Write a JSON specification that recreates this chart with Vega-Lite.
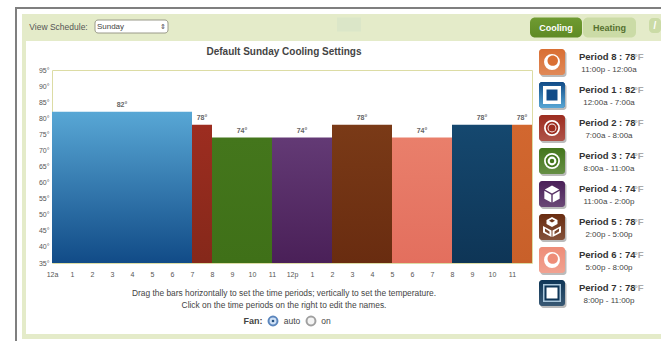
{
"$schema":"https://vega.github.io/schema/vega-lite/v6.json",
"background":"#ffffff",
"padding":{"left":15,"top":7,"right":0,"bottom":0},
"spacing":0,
"config":{"view":{"stroke":null},"concat":{"spacing":0},"text":{"font":"Liberation Sans"},"font":"Liberation Sans"},
"datasets":{
 "bars":[
  {"period":"Period 1","start":0,"end":7,"mid":3.5,"temp":82,"label":"82°"},
  {"period":"Period 2","start":7,"end":8,"mid":7.5,"temp":78,"label":"78°"},
  {"period":"Period 3","start":8,"end":11,"mid":9.5,"temp":74,"label":"74°"},
  {"period":"Period 4","start":11,"end":14,"mid":12.5,"temp":74,"label":"74°"},
  {"period":"Period 5","start":14,"end":17,"mid":15.5,"temp":78,"label":"78°"},
  {"period":"Period 6","start":17,"end":20,"mid":18.5,"temp":74,"label":"74°"},
  {"period":"Period 7","start":20,"end":23,"mid":21.5,"temp":78,"label":"78°"},
  {"period":"Period 8","start":23,"end":24,"mid":23.5,"temp":78,"label":"78°"}
 ],
 "periods":[
  {"period":"Period 8","heading":"Period 8 : 78","range":"11:00p - 12:00a"},
  {"period":"Period 1","heading":"Period 1 : 82","range":"12:00a - 7:00a"},
  {"period":"Period 2","heading":"Period 2 : 78","range":"7:00a - 8:00a"},
  {"period":"Period 3","heading":"Period 3 : 74","range":"8:00a - 11:00a"},
  {"period":"Period 4","heading":"Period 4 : 74","range":"11:00a - 2:00p"},
  {"period":"Period 5","heading":"Period 5 : 78","range":"2:00p - 5:00p"},
  {"period":"Period 6","heading":"Period 6 : 74","range":"5:00p - 8:00p"},
  {"period":"Period 7","heading":"Period 7 : 78","range":"8:00p - 11:00p"}
 ],
 "glyphs":[
  {"period":"Period 8","part":"disc18","tone":"White"},
  {"period":"Period 8","part":"moon","tone":"Period 8"},
  {"period":"Period 1","part":"square18","tone":"White"},
  {"period":"Period 1","part":"square11","tone":"Period 1"},
  {"period":"Period 2","part":"disc18","tone":"White"},
  {"period":"Period 2","part":"disc14","tone":"Period 2"},
  {"period":"Period 2","part":"disc10","tone":"White"},
  {"period":"Period 2","part":"disc8","tone":"Period 2"},
  {"period":"Period 3","part":"disc18","tone":"White"},
  {"period":"Period 3","part":"disc14","tone":"Period 3"},
  {"period":"Period 3","part":"disc10","tone":"White"},
  {"period":"Period 3","part":"disc5","tone":"Period 3"},
  {"period":"Period 4","part":"cube","tone":"White"},
  {"period":"Period 5","part":"crate","tone":"White"},
  {"period":"Period 6","part":"disc18","tone":"White"},
  {"period":"Period 6","part":"moon","tone":"Period 6"},
  {"period":"Period 7","part":"square18","tone":"Pale"},
  {"period":"Period 7","part":"square15","tone":"Period 7"},
  {"period":"Period 7","part":"square11","tone":"White"}
 ]
},
"vconcat":[
 {"width":646,"height":2,"view":{"fill":"#7f7f7f"},"data":{"values":[]},"mark":"rect","encoding":{}},
 {"hconcat":[
  {"width":2,"height":332,"view":{"fill":"#7f7f7f"},"data":{"values":[]},"mark":"rect","encoding":{}},
  {"width":5,"height":10,"data":{"values":[]},"mark":"rect","encoding":{}},
  {"vconcat":[
   {"width":639,"height":5,"data":{"values":[]},"mark":"rect","encoding":{}},
   {"hconcat":[
    {"width":5,"height":27,"view":{"fill":"#e4ebc9"},"data":{"values":[]},"mark":"rect","encoding":{}},
    {"width":63,"height":27,"view":{"fill":"#e4ebc9"},"data":{"values":[{"t":"View Schedule:"}]},
     "mark":{"type":"text","fontSize":8.5,"color":"#555555","yOffset":-1},"encoding":{"text":{"field":"t"}}},
    {"width":3,"height":27,"view":{"fill":"#e4ebc9"},"data":{"values":[]},"mark":"rect","encoding":{}},
    {"width":77,"height":27,"view":{"fill":"#e4ebc9"},"data":{"values":[{"t":"Sunday","a":"⇕"}]},
     "encoding":{"x":{"datum":"c","type":"nominal","axis":null,"scale":{"type":"point"}},"y":{"datum":"c","type":"nominal","axis":null,"scale":{"type":"point"}}},
     "layer":[
     {"mark":{"type":"rect","width":73,"height":13,"cornerRadius":3,"fill":"#ffffff","stroke":"#9a9a8a","yOffset":-1}},
     {"mark":{"type":"text","fontSize":8,"color":"#444444","dx":-21,"yOffset":-1},"encoding":{"text":{"field":"t"}}},
     {"mark":{"type":"text","fontSize":7,"color":"#444444","dx":31,"yOffset":-1},"encoding":{"text":{"field":"a"}}}
    ]},
    {"width":167,"height":27,"view":{"fill":"#e4ebc9"},"data":{"values":[]},"mark":"rect","encoding":{}},
    {"width":24,"height":27,"view":{"fill":"#e4ebc9"},"data":{"values":[{}]},
     "mark":{"type":"rect","width":24,"height":14,"fill":"#dbe6c8","yOffset":-3},
     "encoding":{"x":{"datum":"c","type":"nominal","axis":null,"scale":{"type":"point"}},"y":{"datum":"c","type":"nominal","axis":null,"scale":{"type":"point"}}}},
    {"width":169,"height":27,"view":{"fill":"#e4ebc9"},"data":{"values":[]},"mark":"rect","encoding":{}},
    {"width":52,"height":27,"view":{"fill":"#e4ebc9"},"data":{"values":[{"t":"Cooling"}]},
     "encoding":{"x":{"datum":"c","type":"nominal","axis":null,"scale":{"type":"point"}},"y":{"datum":"c","type":"nominal","axis":null,"scale":{"type":"point"}}},
     "layer":[
     {"mark":{"type":"rect","width":52,"height":20,"cornerRadius":5,"fill":{"gradient":"linear","x1":0,"y1":0,"x2":0,"y2":1,"stops":[{"offset":0,"color":"#6f9b32"},{"offset":1,"color":"#5f8a24"}]}}},
     {"mark":{"type":"text","fontSize":9,"color":"#ffffff","fontWeight":"bold"},"encoding":{"text":{"field":"t"}}}
    ]},
    {"width":1,"height":27,"view":{"fill":"#e4ebc9"},"data":{"values":[]},"mark":"rect","encoding":{}},
    {"width":53,"height":27,"view":{"fill":"#e4ebc9"},"data":{"values":[{"t":"Heating"}]},
     "encoding":{"x":{"datum":"c","type":"nominal","axis":null,"scale":{"type":"point"}},"y":{"datum":"c","type":"nominal","axis":null,"scale":{"type":"point"}}},
     "layer":[
     {"mark":{"type":"rect","width":53,"height":20,"cornerRadius":5,"fill":"#cbdba6"}},
     {"mark":{"type":"text","fontSize":9,"color":"#55702f","fontWeight":"bold"},"encoding":{"text":{"field":"t"}}}
    ]},
    {"width":13,"height":27,"view":{"fill":"#e4ebc9"},"data":{"values":[]},"mark":"rect","encoding":{}},
    {"width":12,"height":27,"view":{"fill":"#e4ebc9"},"data":{"values":[{"t":"/"}]},
     "encoding":{"x":{"datum":"c","type":"nominal","axis":null,"scale":{"type":"point"}},"y":{"datum":"c","type":"nominal","axis":null,"scale":{"type":"point"}}},
     "layer":[
     {"mark":{"type":"rect","width":12,"height":15,"cornerRadius":4,"fill":"#cbdba6","yOffset":-2}},
     {"mark":{"type":"text","fontSize":10,"color":"#ffffff","fontWeight":"bold","yOffset":-2},"encoding":{"text":{"field":"t"}}}
    ]}
   ]},
   {"hconcat":[
    {"width":4,"height":293,"view":{"fill":"#e4ebc9"},"data":{"values":[]},"mark":"rect","encoding":{}},
    {"vconcat":[
     {"width":480,"height":24,"data":{"values":[{"t":"Default Sunday Cooling Settings"}]},
      "mark":{"type":"text","fontSize":10,"fontWeight":"bold","color":"#444444","dx":-8,"dy":-1},"encoding":{"text":{"field":"t"}}},
     {"width":480,"height":193,"view":{"stroke":"#dcdca4","strokeWidth":1},
      "data":{"name":"bars"},
      "encoding":{
       "x":{"field":"start","type":"quantitative","scale":{"domain":[0,24],"nice":false},
        "axis":{"title":null,"values":[0,1,2,3,4,5,6,7,8,9,10,11,12,13,14,15,16,17,18,19,20,21,22,23],"domain":false,"ticks":false,"grid":false,"labelFontSize":7,"labelColor":"#555555","labelPadding":7,"minExtent":18,"maxExtent":18,"labelOverlap":false,"labelFlush":false,
         "labelExpr":"datum.value==0?'12a':datum.value==12?'12p':datum.value>12?''+(datum.value-12):''+datum.value"}},
       "x2":{"field":"end"},
       "y":{"field":"temp","type":"quantitative","scale":{"domain":[35,95],"nice":false},
        "axis":{"title":null,"values":[35,40,45,50,55,60,65,70,75,80,85,90,95],"domain":false,"ticks":false,"grid":false,"labelFontSize":7,"labelColor":"#555555","labelPadding":3,"minExtent":25,"maxExtent":25,"labelOverlap":false,"labelFlush":false,"labelExpr":"datum.value+'°'"}},
       "y2":{"datum":35}
      },
      "layer":[
       {"transform":[{"filter":"datum.period=='Period 1'"}],"mark":{"type":"rect","fill":{"gradient":"linear","x1":0,"y1":0,"x2":0,"y2":1,"stops":[{"offset":0,"color":"#58a7d5"},{"offset":1,"color":"#114b87"}]}}},
       {"transform":[{"filter":"datum.period=='Period 2'"}],"mark":{"type":"rect","fill":{"gradient":"linear","x1":0,"y1":0,"x2":0,"y2":1,"stops":[{"offset":0,"color":"#9d2d20"},{"offset":1,"color":"#85281a"}]}}},
       {"transform":[{"filter":"datum.period=='Period 3'"}],"mark":{"type":"rect","fill":{"gradient":"linear","x1":0,"y1":0,"x2":0,"y2":1,"stops":[{"offset":0,"color":"#44761c"},{"offset":1,"color":"#3f7018"}]}}},
       {"transform":[{"filter":"datum.period=='Period 4'"}],"mark":{"type":"rect","fill":{"gradient":"linear","x1":0,"y1":0,"x2":0,"y2":1,"stops":[{"offset":0,"color":"#633a75"},{"offset":1,"color":"#4a2058"}]}}},
       {"transform":[{"filter":"datum.period=='Period 5'"}],"mark":{"type":"rect","fill":{"gradient":"linear","x1":0,"y1":0,"x2":0,"y2":1,"stops":[{"offset":0,"color":"#7a3a17"},{"offset":1,"color":"#692c10"}]}}},
       {"transform":[{"filter":"datum.period=='Period 6'"}],"mark":{"type":"rect","fill":{"gradient":"linear","x1":0,"y1":0,"x2":0,"y2":1,"stops":[{"offset":0,"color":"#e97f6b"},{"offset":1,"color":"#e36f5e"}]}}},
       {"transform":[{"filter":"datum.period=='Period 7'"}],"mark":{"type":"rect","fill":{"gradient":"linear","x1":0,"y1":0,"x2":0,"y2":1,"stops":[{"offset":0,"color":"#15486f"},{"offset":1,"color":"#0e3556"}]}}},
       {"transform":[{"filter":"datum.period=='Period 8'"}],"mark":{"type":"rect","fill":{"gradient":"linear","x1":0,"y1":0,"x2":0,"y2":1,"stops":[{"offset":0,"color":"#d2672f"},{"offset":1,"color":"#c8602a"}]}}},
       {"mark":{"type":"text","fontSize":7,"fontWeight":"bold","color":"#666666","baseline":"bottom","dy":-4},
        "encoding":{"x":{"field":"mid","type":"quantitative"},"x2":null,"y":{"field":"temp","type":"quantitative"},"y2":null,"text":{"field":"label"}}}
      ]},
     {"width":480,"height":5,"data":{"values":[]},"mark":"rect","encoding":{}},
     {"width":480,"height":12,"data":{"values":[{"t":"Drag the bars horizontally to set the time periods; vertically to set the temperature."}]},
      "mark":{"type":"text","fontSize":8.4,"color":"#444444","dx":-8},"encoding":{"text":{"field":"t"}}},
     {"width":480,"height":12,"data":{"values":[{"t":"Click on the time periods on the right to edit the names."}]},
      "mark":{"type":"text","fontSize":8.4,"color":"#444444","dx":-8},"encoding":{"text":{"field":"t"}}},
     {"width":480,"height":1,"data":{"values":[]},"mark":"rect","encoding":{}},
     {"hconcat":[
      {"width":190,"height":14,"data":{"values":[]},"mark":"rect","encoding":{}},
      {"width":22,"height":14,"data":{"values":[{"t":"Fan:"}]},"mark":{"type":"text","fontSize":9,"fontWeight":"bold","color":"#444444"},"encoding":{"text":{"field":"t"}}},
      {"width":16,"height":14,"data":{"values":[{}]},"layer":[
       {"mark":{"type":"point","filled":true,"size":80,"fill":"#cfe0f5","stroke":"#5b86bd","opacity":1},"encoding":{}},
       {"mark":{"type":"point","filled":true,"size":7,"fill":"#23507f","opacity":1},"encoding":{}}
      ]},
      {"width":20,"height":14,"data":{"values":[{"t":"auto"}]},"mark":{"type":"text","fontSize":8.5,"color":"#444444"},"encoding":{"text":{"field":"t"}}},
      {"width":16,"height":14,"data":{"values":[{}]},
       "mark":{"type":"point","filled":true,"size":80,"fill":"#f4f4f4","stroke":"#a0a0a0","opacity":1},"encoding":{}},
      {"width":12,"height":14,"data":{"values":[{"t":"on"}]},"mark":{"type":"text","fontSize":8.5,"color":"#444444"},"encoding":{"text":{"field":"t"}}}
     ]}
    ]},
    {"width":6,"height":293,"data":{"values":[]},"mark":"rect","encoding":{}},
    {"width":123,"height":293,
     "layer":[
      {"data":{"name":"periods"},"mark":{"type":"rect","width":26,"height":26,"cornerRadius":3,"fill":"#555555","opacity":0.4,"xOffset":1.5,"yOffset":2},
       "encoding":{
        "x":{"datum":"icon","type":"nominal","axis":null,"scale":{"type":"point","domain":["icon","text"],"range":[13,40],"padding":0}},
        "y":{"field":"period","type":"nominal","axis":null,"scale":{"type":"point","domain":["Period 8","Period 1","Period 2","Period 3","Period 4","Period 5","Period 6","Period 7"],"range":[21,252],"padding":0}}}},
      {"data":{"name":"periods"},"mark":{"type":"rect","width":26,"height":26,"cornerRadius":3},
       "encoding":{
        "x":{"datum":"icon","type":"nominal"},
        "y":{"field":"period","type":"nominal"},
        "color":{"field":"period","type":"nominal","legend":null,"scale":{
          "domain":["Period 1","Period 2","Period 3","Period 4","Period 5","Period 6","Period 7","Period 8","White","Pale"],
          "range":["#114b87","#9d2d20","#44761c","#4a2058","#692c10","#ee8d78","#0e3556","#d96f33","#ffffff","#a9c6da"]}}}},
      {"data":{"name":"periods"},"mark":{"type":"rect","width":26,"height":26,"cornerRadius":3,"fill":{"gradient":"linear","x1":0,"y1":0,"x2":0,"y2":1,"stops":[{"offset":0,"color":"rgba(255,255,255,0)"},{"offset":1,"color":"rgba(255,255,255,0.18)"}]}},
       "encoding":{"x":{"datum":"icon","type":"nominal"},"y":{"field":"period","type":"nominal"}}},
      {"data":{"name":"periods"},"transform":[{"filter":"datum.period=='Period 1'"}],"mark":{"type":"rect","width":26,"height":26,"cornerRadius":3,"fill":{"gradient":"linear","x1":0,"y1":0,"x2":0,"y2":1,"stops":[{"offset":0,"color":"#114b87"},{"offset":1,"color":"#58a7d5"}]}},
       "encoding":{"x":{"datum":"icon","type":"nominal"},"y":{"field":"period","type":"nominal"}}},
      {"data":{"name":"glyphs"},"mark":{"type":"point","filled":true,"opacity":1},
       "encoding":{
        "x":{"datum":"icon","type":"nominal"},
        "y":{"field":"period","type":"nominal"},
        "color":{"field":"tone","type":"nominal","legend":null},
        "shape":{"field":"part","type":"nominal","legend":null,"scale":{
         "domain":["disc18","disc14","disc10","disc8","disc5","moon","square18","square15","square11","cube","crate"],
         "range":["circle","circle","circle","circle","circle",
          "M-0.5,-0.15 a0.58,0.58 0 1,0 1.16,0 a0.58,0.58 0 1,0 -1.16,0",
          "square","square","square",
          "M0,-0.95 L0.8,-0.5 L0,-0.05 L-0.8,-0.5 Z M-0.85,-0.35 L-0.08,0.08 L-0.08,0.95 L-0.85,0.52 Z M0.85,-0.35 L0.85,0.52 L0.08,0.95 L0.08,0.08 Z",
          "M0,-1 L0.55,-0.7 L0.55,-0.3 L0,0 L-0.55,-0.3 L-0.55,-0.7 Z M0,-0.8 L-0.3,-0.62 L0,-0.45 L0.3,-0.62 Z M-0.9,-0.1 L-0.05,0.35 L-0.05,1 L-0.9,0.55 Z M-0.7,0.15 L-0.7,0.45 L-0.25,0.72 L-0.25,0.45 Z M0.9,-0.1 L0.9,0.55 L0.05,1 L0.05,0.35 Z M0.7,0.15 L0.25,0.45 L0.25,0.72 L0.7,0.45 Z"]}},
        "size":{"field":"part","type":"nominal","legend":null,"scale":{
         "type":"ordinal",
         "domain":["disc18","disc14","disc10","disc8","disc5","moon","square18","square15","square11","cube","crate"],
         "range":[254,154,78,50,20,324,324,225,121,324,400]}}}},
      {"data":{"name":"periods"},"mark":{"type":"text","align":"left","fontSize":9.5,"fontWeight":"bold","color":"#333333","dy":-5},
       "encoding":{"x":{"datum":"text","type":"nominal"},"y":{"field":"period","type":"nominal"},"text":{"field":"heading"}}},
      {"data":{"name":"periods"},"mark":{"type":"text","align":"left","fontSize":9.5,"fontWeight":"bold","color":"#aaaaaa","dy":-5,"dx":55},
       "encoding":{"x":{"datum":"text","type":"nominal"},"y":{"field":"period","type":"nominal"},"text":{"value":"°F"}}},
      {"data":{"name":"periods"},"mark":{"type":"text","align":"center","fontSize":8,"color":"#444444","dy":8,"dx":30},
       "encoding":{"x":{"datum":"text","type":"nominal"},"y":{"field":"period","type":"nominal"},"text":{"field":"range"}}}
     ]}
   ]},
   {"width":639,"height":5,"view":{"fill":"#e4ebc9"},"data":{"values":[]},"mark":"rect","encoding":{}}
  ]}
 ]}
]}
